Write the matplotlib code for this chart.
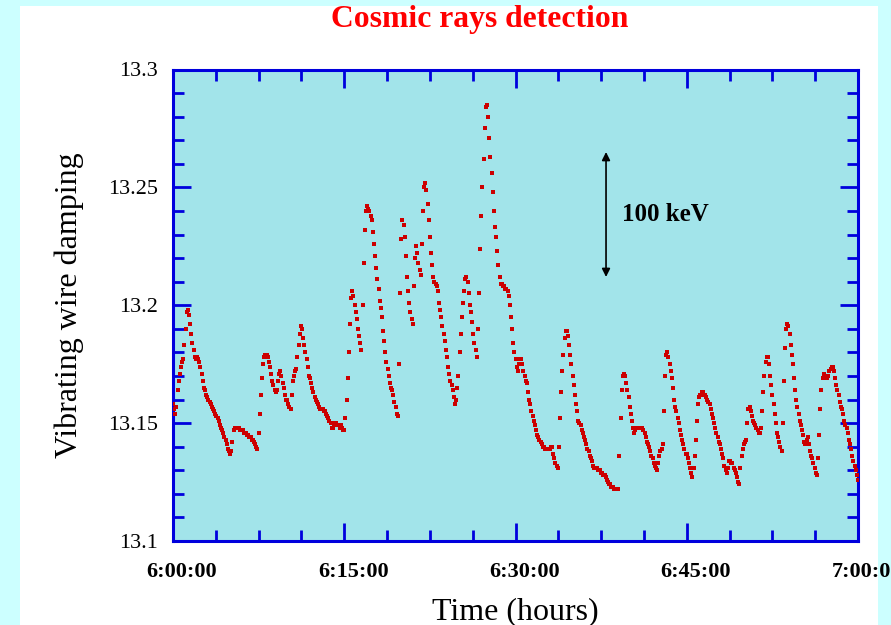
import numpy as np
import matplotlib
matplotlib.use("Agg")
import matplotlib.pyplot as plt
import matplotlib.transforms as mtransforms
from matplotlib.patches import Rectangle
from matplotlib.ticker import FixedLocator, MultipleLocator

# Damping readings, one every 6 s from 6:00:00 to 7:00:00,
# stored as thousandths above 13 (one row per minute).
damping_milli = [
    158, 156, 154, 157, 164, 168, 171, 174, 176, 177,
    183, 190, 197, 198, 196, 192, 188, 184, 181, 178,
    177, 178, 177, 176, 174, 171, 168, 165, 164, 162,
    161, 160, 159, 158, 157, 156, 155, 154, 153, 152,
    151, 149, 148, 147, 146, 144, 143, 141, 139, 138,
    137, 138, 142, 147, 148, 148, 148, 148, 148, 147,
    147, 147, 146, 146, 146, 145, 145, 144, 144, 143,
    143, 142, 141, 140, 139, 146, 154, 162, 169, 175,
    178, 179, 179, 178, 176, 174, 171, 168, 166, 164,
    163, 164, 168, 171, 172, 170, 167, 165, 162, 160,
    160, 158, 157, 156, 162, 168, 170, 172, 173, 178,
    183, 188, 191, 190, 186, 183, 180, 177, 174, 170,
    169, 167, 165, 163, 161, 160, 159, 158, 157, 156,
    156, 156, 155, 155, 154, 153, 152, 151, 150, 148,
    148, 149, 150, 150, 149, 149, 148, 149, 148, 147,
    147, 152, 160, 169, 180, 192, 203, 206, 204, 200,
    197, 194, 190, 187, 184, 181, 200, 218, 232, 240,
    242, 241, 240, 238, 236, 231, 226, 221, 216, 211,
    207, 202, 199, 195, 189, 185, 180, 176, 173, 170,
    167, 165, 164, 162, 159, 157, 154, 153, 175, 205,
    228, 236, 234, 229, 221, 212, 206, 201, 197, 194,
    192, 208, 220, 225, 222, 218, 215, 213, 226, 240,
    250, 252, 249, 243, 236, 229, 222, 217, 212, 210,
    209, 208, 206, 201, 198, 195, 191, 188, 185, 181,
    178, 174, 171, 168, 166, 164, 161, 158, 160, 165,
    170, 180, 188, 195, 201, 206, 211, 212, 210, 205,
    200, 197, 193, 188, 184, 181, 178, 190, 205, 224,
    238, 250, 262, 275, 284, 285, 280, 271, 263, 256,
    248, 240, 233, 229, 223, 217, 212, 209, 209, 208,
    208, 207, 207, 206, 204, 200, 195, 190, 184, 180,
    177, 174, 172, 175, 177, 177, 175, 172, 170, 168,
    167, 163, 160, 158, 155, 153, 151, 149, 147, 145,
    144, 143, 142, 141, 140, 140, 139, 139, 139, 139,
    139, 140, 140, 137, 135, 133, 132, 131, 140, 152,
    163, 172, 179, 186, 189, 189, 187, 183, 179, 175,
    170, 166, 162, 158, 155, 151, 150, 149, 147, 146,
    144, 143, 141, 139, 138, 136, 135, 134, 132, 131,
    131, 131, 130, 130, 130, 129, 129, 128, 128, 127,
    126, 125, 124, 124, 123, 123, 122, 122, 122, 122,
    122, 136, 152, 164, 170, 171, 170, 167, 164, 161,
    157, 154, 151, 148, 146, 147, 148, 148, 148, 148,
    148, 148, 147, 146, 144, 142, 141, 140, 138, 136,
    135, 133, 132, 131, 130, 133, 136, 138, 139, 141,
    155, 170, 179, 180, 178, 175, 172, 169, 165, 160,
    157, 155, 152, 150, 147, 145, 143, 141, 139, 137,
    137, 135, 133, 131, 129, 127, 131, 136, 143, 151,
    158, 161, 162, 163, 163, 162, 162, 161, 160, 159,
    158, 156, 154, 152, 150, 148, 146, 144, 142, 141,
    139, 137, 135, 132, 130, 129, 131, 134, 134, 133,
    133, 131, 130, 129, 127, 125, 124, 131, 136, 139,
    141, 142, 143, 150, 156, 157, 155, 153, 151, 150,
    149, 148, 147, 146, 146, 148, 155, 163, 170, 176,
    178, 178, 175, 170, 166, 162, 158, 154, 150, 146,
    144, 142, 140, 138, 150, 168, 182, 190, 192, 191,
    188, 183, 179, 175, 169, 164, 160, 157, 154, 151,
    149, 147, 145, 142, 141, 143, 144, 141, 138, 136,
    135, 133, 131, 129, 128, 135, 145, 156, 164, 169,
    171, 170, 169, 169, 170, 172, 173, 174, 174, 172,
    169, 166, 164, 162, 159, 157, 156, 154, 151, 149,
    148, 146, 143, 141, 139, 136, 134, 132, 130, 128,
    126,
]
sample_step_s = 6

x_tick_minutes = [0, 15, 30, 45, 60]
x_tick_labels = ["6:00:00", "6:15:00", "6:30:00", "6:45:00", "7:00:00"]
y_ticks = [13.1, 13.15, 13.2, 13.25, 13.3]
y_tick_labels = ["13.1", "13.15", "13.2", "13.25", "13.3"]

scale_bar_bottom = 13.212
scale_bar_top = 13.265
scale_bar_label = "100 keV"

damping = 13.0 + np.array(damping_milli) / 1000.0
minutes = np.arange(len(damping)) * sample_step_s / 60.0

serif = ["Liberation Serif", "DejaVu Serif"]
plt.rcParams["font.family"] = serif

W, H = 891, 625
fig = plt.figure(figsize=(W / 100, H / 100), dpi=100, facecolor="#CCFFFF")

# white slide panel behind the chart
fig.patches.append(Rectangle((20 / W, 0), (878 - 20) / W, 1 - 6 / H,
                             transform=fig.transFigure, facecolor="white",
                             edgecolor="none", zorder=-10))

ax = fig.add_axes([173 / W, 1 - 541 / H, (858 - 173) / W, (541 - 69.5) / H])
ax.set_zorder(1)
ax.set_facecolor("#A2E4EA")

ax.plot(minutes, damping, linestyle="none", marker="s", markersize=2.9,
        markeredgewidth=0, color="#CC0000", zorder=3)

ax.set_xlim(0, 60)
ax.set_ylim(13.1, 13.3)

blue = "#0000DD"
for sp in ax.spines.values():
    sp.set_color(blue)
    sp.set_linewidth(2.2)

ax.xaxis.set_major_locator(FixedLocator(x_tick_minutes))
ax.xaxis.set_minor_locator(MultipleLocator(3.75))
ax.yaxis.set_major_locator(FixedLocator(y_ticks))
ax.yaxis.set_minor_locator(MultipleLocator(0.01))
ax.set_xticklabels(x_tick_labels, fontsize=16, fontweight="bold")
ax.set_yticklabels(y_tick_labels, fontsize=16)

ax.tick_params(which="both", direction="in", top=True, right=True,
               color=blue, width=2)
ax.tick_params(which="major", length=13)
ax.tick_params(which="minor", length=8)
ax.tick_params(axis="x", which="major", pad=15)
ax.tick_params(axis="y", which="major", pad=11)

# time labels sit slightly to the right of their ticks
shift = mtransforms.ScaledTranslation(9 / 100, 0, fig.dpi_scale_trans)
for lbl in ax.get_xticklabels():
    lbl.set_transform(lbl.get_transform() + shift)

ax.set_xlabel("Time (hours)", fontsize=23, labelpad=11)
ax.set_ylabel("Vibrating wire damping", fontsize=23, labelpad=17)

# energy scale bar
ax.annotate("", xy=(37.93, scale_bar_top), xytext=(37.93, scale_bar_bottom),
            arrowprops=dict(arrowstyle="<|-|>", color="black", lw=1.2,
                            mutation_scale=12, shrinkA=0, shrinkB=0),
            zorder=4)
ax.text(39.3, (scale_bar_top + scale_bar_bottom) / 2, scale_bar_label,
        fontsize=18, fontweight="bold", ha="left", va="center", zorder=4)

fig.text(480 / W, 1 - 20 / H, "Cosmic rays detection", color="#FF0000",
         fontsize=22.8, fontweight="bold", ha="center", va="center")

fig.savefig("out.png", dpi=100, facecolor=fig.get_facecolor())
